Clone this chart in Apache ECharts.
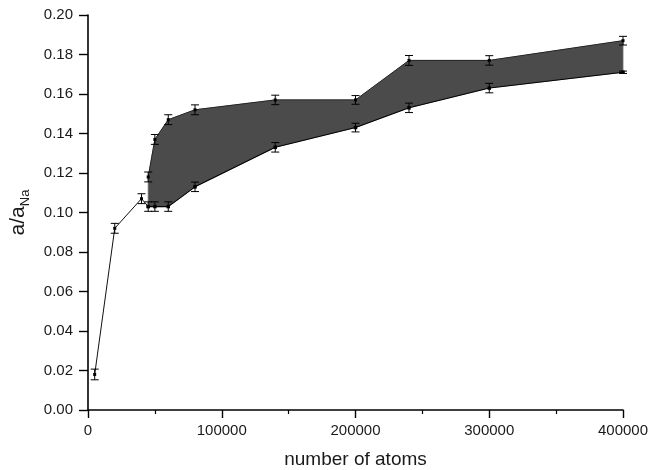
<!DOCTYPE html>
<html>
<head>
<meta charset="utf-8">
<script src="https://cdn.jsdelivr.net/npm/echarts@6/dist/echarts.min.js"></script>
<style>
  html, body { margin: 0; padding: 0; background: #fff; }
  #chart { width: 649px; height: 470px; }
</style>
</head>
<body>
<div id="chart"></div>
<script>
// Lead-in measurements (single curve before the band opens)
const leadX = [5000, 20000, 40000];
const leadY = [0.018, 0.092, 0.107];
const leadErr = [0.0027, 0.0025, 0.0025];

// Band: upper and lower bounds sharing the same atom counts
const bandX = [45000, 50000, 60000, 80000, 140000, 200000, 240000, 300000, 400000];
const upperY = [0.118, 0.137, 0.147, 0.152, 0.157, 0.157, 0.177, 0.177, 0.187];
const lowerY = [0.103, 0.103, 0.103, 0.113, 0.133, 0.143, 0.153, 0.163, 0.171];
const upperErr = [0.0025, 0.0025, 0.0025, 0.0025, 0.0024, 0.0022, 0.0025, 0.0024, 0.0022];
const lowerErr = [0.0024, 0.0024, 0.0024, 0.0024, 0.0024, 0.0022, 0.0024, 0.0024, 0.0006];

// Axis ticks
const xTicks = [0, 100000, 200000, 300000, 400000];
const yTicks = [0.00, 0.02, 0.04, 0.06, 0.08, 0.10, 0.12, 0.14, 0.16, 0.18, 0.20];

const FONT = 'Liberation Sans, Arial, sans-serif';

// Lead line runs into the first lower band point
const leadData = leadX.map((x, i) => [x, leadY[i]]).concat([[bandX[0], lowerY[0]]]);
const upperData = bandX.map((x, i) => [x, upperY[i]]);
const lowerData = bandX.map((x, i) => [x, lowerY[i]]);

const errData = []
  .concat(leadX.map((x, i) => [x, leadY[i] - leadErr[i], leadY[i] + leadErr[i]]))
  .concat(bandX.map((x, i) => [x, upperY[i] - upperErr[i], upperY[i] + upperErr[i]]))
  .concat(bandX.map((x, i) => [x, lowerY[i] - lowerErr[i], lowerY[i] + lowerErr[i]]));

const chart = echarts.init(document.getElementById('chart'), null, { renderer: 'canvas' });

const axisCommon = {
  axisLine: { show: true, onZero: false, lineStyle: { color: '#000', width: 1.6 } },
  axisTick: { show: true, inside: false, lineStyle: { color: '#000', width: 1.4 } },
  splitLine: { show: false },
  axisLabel: { color: '#1a1a1a', fontFamily: FONT, fontSize: 15 }
};

chart.setOption({
  animation: false,
  backgroundColor: '#fff',
  grid: { left: 88, right: 26, top: 15, bottom: 60, containLabel: false, outerBoundsMode: 'none' },
  xAxis: Object.assign({}, axisCommon, {
    type: 'value',
    min: xTicks[0],
    max: xTicks[xTicks.length - 1],
    interval: xTicks[1] - xTicks[0],
    name: 'number of atoms',
    nameLocation: 'middle',
    nameGap: 40,
    nameTextStyle: { color: '#1a1a1a', fontFamily: FONT, fontSize: 19 },
    axisTick: { show: true, length: 8, lineStyle: { color: '#000', width: 1.4 } },
    minorTick: { show: true, splitNumber: 2, length: 4, lineStyle: { color: '#000', width: 1.2 } },
    axisLabel: { color: '#1a1a1a', fontFamily: FONT, fontSize: 15, margin: 13,
      formatter: v => String(v) }
  }),
  yAxis: Object.assign({}, axisCommon, {
    type: 'value',
    min: yTicks[0],
    max: yTicks[yTicks.length - 1],
    interval: 0.02,
    name: '{a|a/a}{s|Na}',
    nameLocation: 'middle',
    nameGap: 56,
    nameTextStyle: {
      color: '#1a1a1a', fontFamily: FONT,
      rich: {
        a: { fontSize: 21, lineHeight: 28, fontFamily: FONT, color: '#1a1a1a' },
        s: { fontSize: 13, lineHeight: 13, verticalAlign: 'bottom', fontFamily: FONT, color: '#1a1a1a' }
      }
    },
    axisTick: { show: true, length: 9, lineStyle: { color: '#000', width: 1.4 } },
    axisLabel: { color: '#1a1a1a', fontFamily: FONT, fontSize: 15, margin: 15,
      formatter: v => v.toFixed(2) }
  }),
  series: [
    {
      // shaded region between the upper and lower curves
      type: 'custom',
      name: 'band',
      z: 1,
      silent: true,
      data: [[bandX[0], lowerY[0]]],
      renderItem: function (params, api) {
        const pts = [];
        for (let i = 0; i < bandX.length; i++) pts.push(api.coord([bandX[i], upperY[i]]));
        for (let i = bandX.length - 1; i >= 0; i--) pts.push(api.coord([bandX[i], lowerY[i]]));
        return {
          type: 'polygon',
          shape: { points: pts },
          style: { fill: '#4b4b4b', stroke: '#6a6a6a', lineWidth: 0.8 }
        };
      }
    },
    {
      type: 'line',
      name: 'lead',
      z: 3,
      data: leadData,
      symbol: 'rect',
      symbolSize: 3,
      itemStyle: { color: '#000' },
      lineStyle: { color: '#111', width: 1 }
    },
    {
      type: 'line',
      name: 'upper',
      z: 3,
      data: upperData,
      symbol: 'rect',
      symbolSize: 3,
      itemStyle: { color: '#000' },
      lineStyle: { color: '#222', width: 1 }
    },
    {
      type: 'line',
      name: 'lower',
      z: 3,
      data: lowerData,
      symbol: 'rect',
      symbolSize: 3.5,
      itemStyle: { color: '#000' },
      lineStyle: { color: '#000', width: 1.1 }
    },
    {
      // vertical error bars with caps
      type: 'custom',
      name: 'errors',
      z: 4,
      silent: true,
      encode: { x: 0, y: [1, 2] },
      data: errData,
      renderItem: function (params, api) {
        const x = api.value(0);
        const lo = api.coord([x, api.value(1)]);
        const hi = api.coord([x, api.value(2)]);
        const w = 4;
        const style = { stroke: '#000', lineWidth: 1, fill: null };
        return {
          type: 'group',
          children: [
            { type: 'line', shape: { x1: lo[0], y1: lo[1], x2: hi[0], y2: hi[1] }, style: style },
            { type: 'line', shape: { x1: lo[0] - w, y1: lo[1], x2: lo[0] + w, y2: lo[1] }, style: style },
            { type: 'line', shape: { x1: hi[0] - w, y1: hi[1], x2: hi[0] + w, y2: hi[1] }, style: style }
          ]
        };
      }
    }
  ]
});
</script>
</body>
</html>
